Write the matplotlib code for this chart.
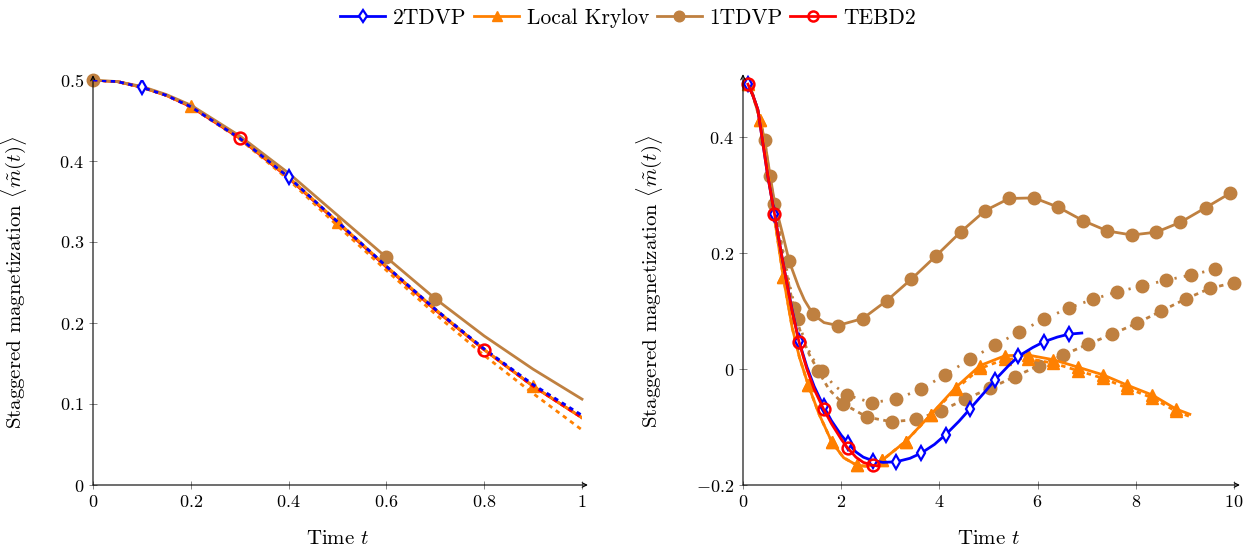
import numpy as np
import matplotlib.pyplot as plt
from matplotlib.ticker import FuncFormatter

plt.rcParams["font.family"] = "serif"
plt.rcParams["font.serif"] = ["cmr10"]
plt.rcParams["mathtext.fontset"] = "cm"
plt.rcParams["axes.unicode_minus"] = False
plt.rcParams["font.size"] = 12

BLUE = "#0000ff"
ORANGE = "#ff8000"
BROWN = "#bf8040"
RED = "#ff0000"

################################################################################
# left panel: short times

t_short = [0.0, 0.05, 0.1, 0.15, 0.2, 0.3, 0.4, 0.5, 0.6, 0.7, 0.8, 0.9, 1.0]
m_tebd_s = [0.5, 0.498, 0.491, 0.481, 0.467, 0.428, 0.379, 0.324, 0.269, 0.216, 0.167, 0.122, 0.083]
m_2tdvp_s = [0.5, 0.498, 0.491, 0.481, 0.467, 0.428, 0.380, 0.325, 0.270, 0.217, 0.168, 0.124, 0.086]
m_kry_s = [0.5, 0.498, 0.491, 0.481, 0.468, 0.429, 0.380, 0.325, 0.270, 0.217, 0.167, 0.122, 0.083]
m_kry_s2 = [0.5, 0.498, 0.491, 0.481, 0.467, 0.427, 0.377, 0.320, 0.265, 0.211, 0.160, 0.113, 0.068]
m_1tdvp_s = [0.5, 0.498, 0.492, 0.482, 0.469, 0.431, 0.385, 0.333, 0.281, 0.230, 0.184, 0.143, 0.106]
m_1tdvp_s2 = [0.5, 0.498, 0.491, 0.481, 0.468, 0.428, 0.380, 0.325, 0.270, 0.217, 0.168, 0.123, 0.085]

################################################################################
# right panel: long times

t_tebd = [0.1, 0.2, 0.3, 0.4, 0.5, 0.64, 0.8, 0.9, 1.0, 1.14, 1.3, 1.45, 1.64,
          1.8, 2.0, 2.13, 2.3, 2.45, 2.64, 2.75]
m_tebd = [0.491, 0.472, 0.448, 0.392, 0.335, 0.268, 0.19, 0.145, 0.100, 0.047,
          0.000, -0.035, -0.069, -0.094, -0.121, -0.136, -0.152, -0.161, -0.166, -0.167]

t_2tdvp = [0.1, 0.2, 0.3, 0.4, 0.5, 0.64, 0.8, 0.9, 1.0, 1.14, 1.3, 1.45, 1.64,
           1.8, 2.0, 2.13, 2.3, 2.45, 2.64, 2.85, 3.12, 3.4, 3.63, 3.9, 4.13,
           4.4, 4.62, 4.9, 5.13, 5.4, 5.61, 5.9, 6.13, 6.4, 6.63, 6.9]
m_2tdvp = [0.491, 0.472, 0.448, 0.392, 0.335, 0.268, 0.19, 0.146, 0.102, 0.048,
           0.004, -0.030, -0.064, -0.089, -0.114, -0.127, -0.143, -0.152, -0.158,
           -0.161, -0.160, -0.154, -0.145, -0.130, -0.113, -0.090, -0.069, -0.042,
           -0.019, 0.005, 0.022, 0.037, 0.047, 0.055, 0.060, 0.062]

t_kry = [0.1, 0.2, 0.35, 0.5, 0.65, 0.82, 1.0, 1.15, 1.33, 1.55, 1.81, 2.05,
         2.32, 2.55, 2.84, 3.31, 3.82, 4.33, 4.83, 5.34, 5.81, 6.32, 6.83, 7.33,
         7.83, 8.34, 8.82, 9.1]
m_kry = [0.491, 0.472, 0.429, 0.345, 0.255, 0.159, 0.072, 0.02, -0.028, -0.078,
         -0.126, -0.153, -0.166, -0.168, -0.157, -0.125, -0.079, -0.032, 0.006,
         0.023, 0.024, 0.016, 0.003, -0.010, -0.028, -0.045, -0.069, -0.078]
m_kry2 = [0.491, 0.472, 0.429, 0.345, 0.255, 0.159, 0.072, 0.02, -0.028, -0.078,
          -0.126, -0.153, -0.166, -0.168, -0.157, -0.125, -0.080, -0.035, 0.001,
          0.017, 0.018, 0.010, -0.003, -0.016, -0.033, -0.050, -0.073, -0.082]

t_1tdvp = [0.1, 0.2, 0.3, 0.44, 0.54, 0.64, 0.8, 0.94, 1.13, 1.25, 1.43, 1.65,
           1.93, 2.44, 2.93, 3.43, 3.93, 4.43, 4.93, 5.42, 5.93, 6.42, 6.92, 7.42,
           7.92, 8.42, 8.91, 9.42, 9.92, 10.0]
m_1tdvp = [0.491, 0.473, 0.447, 0.395, 0.34, 0.288, 0.235, 0.186, 0.142, 0.119,
           0.094, 0.080, 0.075, 0.087, 0.118, 0.155, 0.195, 0.236, 0.273, 0.294,
           0.295, 0.279, 0.256, 0.238, 0.231, 0.236, 0.253, 0.278, 0.303, 0.306]

t_1tdvp_b = [0.1, 0.2, 0.3, 0.44, 0.54, 0.7, 0.85, 1.03, 1.2, 1.35, 1.53, 1.75,
             2.04, 2.53, 3.03, 3.53, 4.03, 4.53, 5.03, 5.54, 6.03, 6.52, 7.03,
             7.52, 8.02, 8.52, 9.02, 9.51, 10.0]
m_1tdvp_b = [0.491, 0.473, 0.447, 0.395, 0.333, 0.255, 0.18, 0.105, 0.055, 0.025,
             -0.003, -0.035, -0.060, -0.083, -0.091, -0.087, -0.072, -0.052, -0.033,
             -0.013, 0.006, 0.024, 0.043, 0.060, 0.079, 0.100, 0.121, 0.139, 0.149]

t_1tdvp_c = [0.1, 0.2, 0.3, 0.44, 0.54, 0.64, 0.8, 0.95, 1.11, 1.25, 1.4, 1.61,
             1.85, 2.12, 2.62, 3.12, 3.62, 4.12, 4.62, 5.13, 5.63, 6.13, 6.63,
             7.12, 7.62, 8.12, 8.61, 9.12, 9.61, 9.7]
m_1tdvp_c = [0.491, 0.473, 0.447, 0.395, 0.333, 0.284, 0.21, 0.145, 0.087, 0.05,
             0.02, -0.003, -0.028, -0.045, -0.058, -0.052, -0.035, -0.010, 0.017,
             0.041, 0.064, 0.086, 0.105, 0.120, 0.133, 0.143, 0.153, 0.162, 0.172,
             0.173]

################################################################################

fig = plt.figure(figsize=(12.56, 5.56), dpi=100)
ax1 = fig.add_axes([93 / 1256, 1 - 485 / 556, 489 / 1256, 405 / 556])
ax2 = fig.add_axes([743 / 1256, 1 - 485 / 556, 491 / 1256, 406 / 556])

lw = 2.0
dash = (0, (1.6, 1.6))
dots = (0, (0.8, 2.6))

diamond = dict(marker="d", ms=7, mfc="white", mec=BLUE, mew=1.6)
tri = dict(marker="^", ms=9, mfc=ORANGE, mec=ORANGE)
circ = dict(marker="o", ms=9, mfc=BROWN, mec=BROWN)
ocirc = dict(marker="o", ms=8.5, mfc="none", mec=RED, mew=1.8)

# left
ax1.plot(t_short, m_tebd_s, color=RED, lw=lw, zorder=2)
ax1.plot(t_short, m_kry_s, color=ORANGE, lw=lw, markevery=[4, 7, 11], zorder=2, **tri)
ax1.plot(t_short, m_1tdvp_s, color=BROWN, lw=lw, markevery=[0, 8, 9], zorder=3,
         clip_on=False, **circ)
ax1.plot(t_short, m_1tdvp_s2, color=BROWN, lw=lw, ls=dash, zorder=3)
ax1.plot(t_short, m_tebd_s, color=RED, lw=lw, ls=dash, zorder=3)
ax1.plot(t_short, m_kry_s2, color=ORANGE, lw=lw, ls=dash, zorder=3)
ax1.plot(t_short, m_2tdvp_s, color=BLUE, lw=lw, ls=dash, markevery=[2, 6], zorder=4, **diamond)
ax1.plot(t_short, m_tebd_s, color=RED, lw=0, markevery=[5, 10], zorder=5, **ocirc)

# right
h_1 = ax2.plot(t_1tdvp, m_1tdvp, color=BROWN, lw=lw, clip_on=False,
               markevery=[3, 7, 10, 12] + list(range(13, 29)), **circ)[0]
ax2.plot(t_1tdvp_c, m_1tdvp_c, color=BROWN, lw=lw, ls=dots, clip_on=False,
         markevery=[5, 8, 11, 13] + list(range(14, 29)), **circ)
ax2.plot(t_1tdvp_b, m_1tdvp_b, color=BROWN, lw=lw, ls=dash, clip_on=False,
         markevery=[4, 7, 10, 12] + list(range(13, 29)), **circ)
ax2.plot(t_kry, m_kry2, color=ORANGE, lw=lw, ls=dash, clip_on=False,
         markevery=[0, 2, 5, 8, 10, 12, 14] + list(range(15, 27)), **tri)
h_k = ax2.plot(t_kry, m_kry, color=ORANGE, lw=lw, clip_on=False,
               markevery=[0, 2, 5, 8, 10, 12, 14] + list(range(15, 27)), **tri)[0]
h_2 = ax2.plot(t_2tdvp, m_2tdvp, color=BLUE, lw=lw, clip_on=False,
               markevery=[0, 5, 9, 12, 15, 18, 20, 22, 24, 26, 28, 30, 32, 34],
               **diamond)[0]
h_t = ax2.plot(t_tebd, m_tebd, color=RED, lw=lw, clip_on=False,
               markevery=[0, 5, 9, 12, 15, 18], **ocirc)[0]

ax1.set_xlim(0, 1)
ax1.set_ylim(0, 0.5)
ax1.set_xticks([0, 0.2, 0.4, 0.6, 0.8, 1])
ax1.set_yticks([0, 0.1, 0.2, 0.3, 0.4, 0.5])
ax2.set_xlim(0, 10)
ax2.set_ylim(-0.2, 0.5)
ax2.set_xticks([0, 2, 4, 6, 8, 10])
ax2.set_yticks([-0.2, 0, 0.2, 0.4])

fmt = FuncFormatter(lambda v, p: f"${v:g}$")
for ax, lx, ly in [(ax1, -0.13, -0.112), (ax2, -0.158, -0.112)]:
    for s in ax.spines.values():
        s.set_visible(False)
    ax.xaxis.set_major_formatter(fmt)
    ax.yaxis.set_major_formatter(fmt)
    ax.tick_params(direction="inout", length=6, width=0.6, color="0.45",
                   labelsize=13, top=False, right=False)
    for xy, xyt in [((1.012, 0), (0, 0)), ((0, 1.012), (0, 0))]:
        ax.annotate("", xy=xy, xytext=xyt, xycoords="axes fraction",
                    arrowprops=dict(arrowstyle="->", lw=0.8, color="black",
                                    shrinkA=0, shrinkB=0, mutation_scale=8))
    ax.set_xlabel("Time $t$", fontsize=15)
    ax.set_ylabel(r"Staggered magnetization $\langle \tilde{m}(t) \rangle$", fontsize=15)
    ax.yaxis.set_label_coords(lx, 0.5)
    ax.xaxis.set_label_coords(0.5, ly)

fig.legend([h_2, h_k, h_1, h_t], ["2TDVP", "Local Krylov", "1TDVP", "TEBD2"],
           loc="upper center", bbox_to_anchor=(0.5, 1.02), ncol=4, frameon=False,
           fontsize=15.5, handlelength=2.1, handletextpad=0.35, columnspacing=0.35,
           markerscale=0.85)

fig.savefig("out.png", dpi=100)
